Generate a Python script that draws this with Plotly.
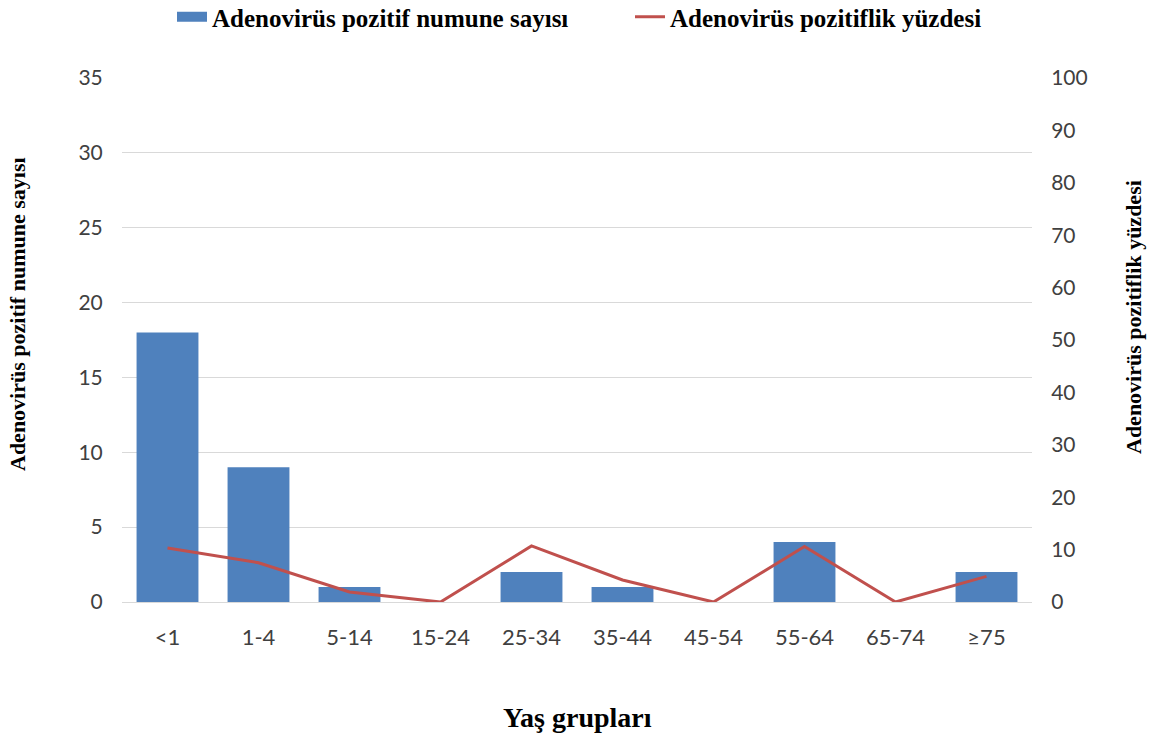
import plotly.graph_objects as go

categories = ["<1", "1-4", "5-14", "15-24", "25-34", "35-44", "45-54", "55-64", "65-74", "≥75"]
positive_counts = [18, 9, 1, 0, 2, 1, 0, 4, 0, 2]
positive_percent = [10.3, 7.5, 1.9, 0, 10.7, 4.2, 0, 10.6, 0, 4.9]

bar_name = "Adenovirüs pozitif numune sayısı"
line_name = "Adenovirüs pozitiflik yüzdesi"
x_title = "Yaş grupları"

SERIF = "Liberation Serif, Times New Roman, serif"
SANS = "Lato, Calibri, sans-serif"
BAR_COLOR = "#4F81BD"
LINE_COLOR = "#C0504D"

fig = go.Figure()
fig.add_trace(go.Bar(x=categories, y=positive_counts, name=bar_name, showlegend=False,
                     marker=dict(color=BAR_COLOR, line=dict(width=0)), yaxis="y"))
# legend swatch for the bars (wide rectangle like the original)
fig.add_trace(go.Scatter(x=[categories[0]], y=[None], name=bar_name, mode="lines",
                         line=dict(color=BAR_COLOR, width=10), yaxis="y", hoverinfo="skip",
                         legend="legend"))
fig.add_trace(go.Scatter(x=categories, y=positive_percent, name=line_name, mode="lines",
                         line=dict(color=LINE_COLOR, width=3), yaxis="y2", legend="legend2"))

legend_common = dict(orientation="h", xanchor="left", y=1 - 17 / 740, yref="container",
                     yanchor="middle", bgcolor="rgba(0,0,0,0)",
                     font=dict(family=SERIF, size=25, color="black", weight="bold"))

fig.update_layout(
    width=1152, height=740,
    margin=dict(l=122, r=120, t=78, b=138),
    paper_bgcolor="white", plot_bgcolor="white",
    font=dict(family=SANS, size=21, color="#404040"),
    bargap=0.32,
    showlegend=True,
    legend=dict(x=(172 - 122) / 910, **legend_common),
    legend2=dict(x=(630 - 122) / 910, **legend_common),
    xaxis=dict(type="category", showgrid=False, showline=True, linecolor="#d9d9d9", linewidth=1,
               ticks="outside", ticklen=16, tickcolor="rgba(0,0,0,0)",
               tickfont=dict(family=SANS, size=22, color="#404040")),
    yaxis=dict(range=[0, 35], dtick=5, showgrid=True, gridcolor="#d9d9d9", gridwidth=1,
               zeroline=False, showline=False,
               ticks="outside", ticklen=14, tickcolor="rgba(0,0,0,0)",
               tickfont=dict(family=SANS, size=21, color="#404040")),
    yaxis2=dict(range=[0, 100], dtick=10, overlaying="y", side="right", showgrid=False,
                zeroline=False, showline=False,
                ticks="outside", ticklen=14, tickcolor="rgba(0,0,0,0)",
                tickfont=dict(family=SANS, size=21, color="#404040")),
    annotations=[
        dict(text=f"<b>{bar_name}</b>", xref="paper", yref="paper", x=(17 - 122) / 910,
             y=(602 - 314) / 524, xanchor="center", yanchor="middle", textangle=-90,
             showarrow=False, font=dict(family=SERIF, size=22, color="black")),
        dict(text=f"<b>{line_name}</b>", xref="paper", yref="paper", x=(1133 - 122) / 910,
             y=(602 - 317) / 524, xanchor="center", yanchor="middle", textangle=-90,
             showarrow=False, font=dict(family=SERIF, size=22, color="black")),
        dict(text=f"<b>{x_title}</b>", xref="paper", yref="paper", x=0.5,
             y=(602 - 717) / 524, xanchor="center", yanchor="middle", showarrow=False,
             font=dict(family=SERIF, size=28, color="black")),
    ],
)

fig.write_html("out.html", config={"displayModeBar": False},
               post_script="document.body.style.margin='0';")
